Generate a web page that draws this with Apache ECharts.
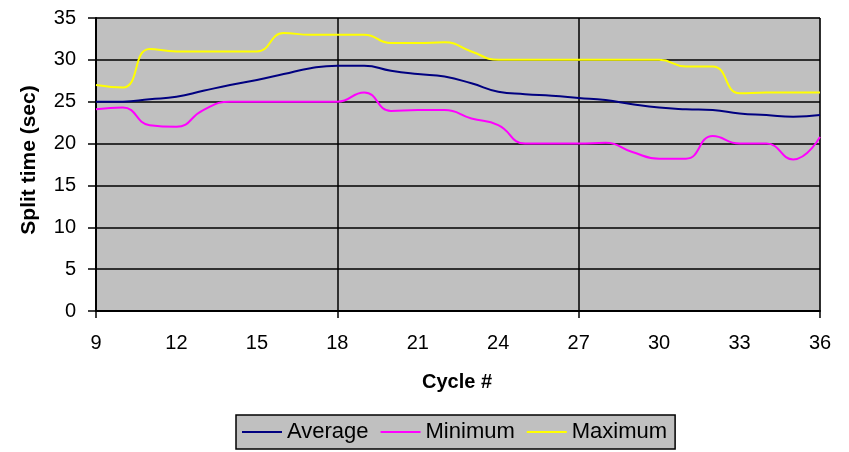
<!DOCTYPE html>
<html>
<head>
<meta charset="utf-8">
<title>Split time per cycle</title>
<script src="https://cdn.jsdelivr.net/npm/echarts@6/dist/echarts.min.js"></script>
<style>
  html, body { margin: 0; padding: 0; background: #ffffff; }
  #chart { width: 849px; height: 452px; }
</style>
</head>
<body>
<div id="chart"></div>
<script>
// Cycle numbers on the horizontal axis
var cycles = [9, 10, 11, 12, 13, 14, 15, 16, 17, 18, 19, 20, 21, 22, 23, 24, 25, 26, 27, 28, 29, 30, 31, 32, 33, 34, 35, 36];

// Split times (seconds) per cycle
var averageSplit = [25.0, 25.0, 25.3, 25.6, 26.3, 27.0, 27.6, 28.3, 29.0, 29.3, 29.3, 28.7, 28.3, 28.0, 27.2, 26.2, 25.9, 25.7, 25.45, 25.2, 24.7, 24.3, 24.1, 24.0, 23.6, 23.4, 23.2, 23.4];
var minimumSplit = [24.1, 24.3, 22.2, 22.0, 24.0, 25.0, 25.0, 25.0, 25.0, 25.0, 26.1, 23.9, 24.0, 24.0, 23.0, 22.2, 20.0, 20.0, 20.0, 20.1, 19.0, 18.2, 18.2, 20.9, 20.0, 20.0, 18.1, 20.8];
var maximumSplit = [27.0, 26.7, 31.3, 31.0, 31.0, 31.0, 31.0, 33.2, 33.0, 33.0, 33.0, 32.0, 32.0, 32.1, 31.0, 30.0, 30.0, 30.0, 30.0, 30.0, 30.0, 30.0, 29.2, 29.2, 26.0, 26.1, 26.1, 26.1];

// Axis tick labels
var xTickLabels = ['9', '12', '15', '18', '21', '24', '27', '30', '33', '36'];
var yTickLabels = ['0', '5', '10', '15', '20', '25', '30', '35'];

function pairs(values) {
  return cycles.map(function (c, i) { return [c, values[i]]; });
}

var FONT = '"Liberation Sans", Arial, sans-serif';

var chart = echarts.init(document.getElementById('chart'), null, { renderer: 'canvas' });

chart.setOption({
  animation: false,
  backgroundColor: '#ffffff',
  grid: {
    left: 96, top: 18, right: 29, bottom: 141,
    show: true,
    backgroundColor: '#c0c0c0',
    borderColor: '#808080',
    borderWidth: 1
  },
  legend: {
    top: 415,
    left: 236,
    padding: [6, 8, 6, 6],
    itemGap: 12,
    itemWidth: 40,
    itemHeight: 2,
    backgroundColor: '#c0c0c0',
    borderColor: '#000000',
    borderWidth: 1.5,
    borderRadius: 0,
    textStyle: { fontFamily: FONT, fontSize: 22, color: '#000000' },
    data: [
      { name: 'Average', icon: 'rect' },
      { name: 'Minimum', icon: 'rect' },
      { name: 'Maximum', icon: 'rect' }
    ]
  },
  xAxis: [
    {
      type: 'value',
      min: 9, max: 36, interval: 3,
      position: 'bottom',
      axisLine: { show: true, onZero: false, lineStyle: { color: '#000000', width: 2 } },
      axisTick: { show: false },
      splitLine: { show: false },
      axisLabel: {
        margin: 22,
        fontFamily: FONT, fontSize: 20, color: '#000000',
        formatter: function (v) {
          var s = String(v);
          return xTickLabels.indexOf(s) >= 0 ? s : '';
        }
      }
    },
    {
      // Gridlines and tick marks every nine cycles
      type: 'value',
      min: 9, max: 36, interval: 9,
      position: 'bottom',
      axisLine: { show: false },
      axisLabel: { show: false },
      axisTick: { show: true, inside: false, length: 7, lineStyle: { color: '#000000', width: 1.5 } },
      splitLine: { show: true, lineStyle: { color: '#000000', width: 1.5 } }
    }
  ],
  yAxis: {
    type: 'value',
    min: 0, max: 35, interval: 5,
    axisLine: { show: true, onZero: false, lineStyle: { color: '#000000', width: 2 } },
    axisTick: { show: true, inside: false, length: 8, lineStyle: { color: '#000000', width: 1.5 } },
    splitLine: { show: true, lineStyle: { color: '#000000', width: 1.5 } },
    axisLabel: {
      margin: 20,
      fontFamily: FONT, fontSize: 20, color: '#000000',
      formatter: function (v) {
        var s = String(v);
        return yTickLabels.indexOf(s) >= 0 ? s : '';
      }
    }
  },
  graphic: [
    {
      type: 'text',
      x: 29, y: 160,
      rotation: Math.PI / 2,
      style: {
        text: 'Split time (sec)',
        fontFamily: FONT, fontSize: 21, fontWeight: 'bold', fill: '#000000',
        align: 'center', verticalAlign: 'middle'
      }
    },
    {
      type: 'text',
      x: 457, y: 382,
      style: {
        text: 'Cycle #',
        fontFamily: FONT, fontSize: 20, fontWeight: 'bold', fill: '#000000',
        align: 'center', verticalAlign: 'middle'
      }
    }
  ],
  series: [
    {
      name: 'Average', type: 'line', xAxisIndex: 0,
      data: pairs(averageSplit), smooth: 0.5, showSymbol: false, symbol: 'none',
      lineStyle: { color: '#000080', width: 2 }, itemStyle: { color: '#000080' }, z: 4
    },
    {
      name: 'Minimum', type: 'line', xAxisIndex: 0,
      data: pairs(minimumSplit), smooth: 0.5, showSymbol: false, symbol: 'none',
      lineStyle: { color: '#ff00ff', width: 2 }, itemStyle: { color: '#ff00ff' }, z: 3
    },
    {
      name: 'Maximum', type: 'line', xAxisIndex: 0,
      data: pairs(maximumSplit), smooth: 0.5, showSymbol: false, symbol: 'none',
      lineStyle: { color: '#ffff00', width: 2 }, itemStyle: { color: '#ffff00' }, z: 2
    }
  ]
});
</script>
</body>
</html>
